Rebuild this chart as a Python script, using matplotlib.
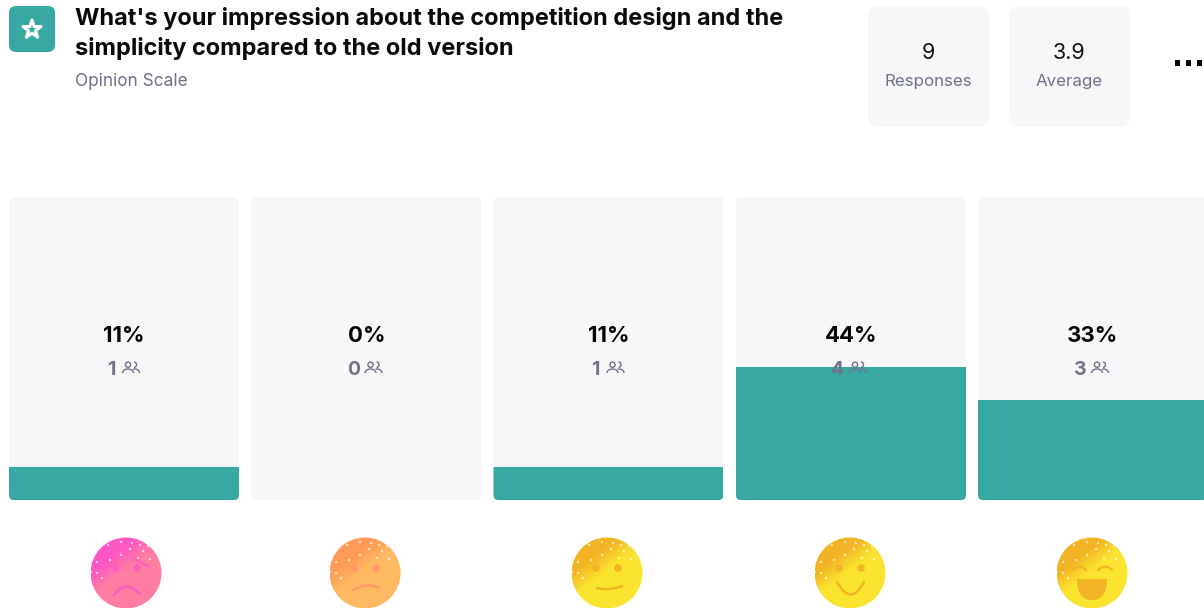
import numpy as np
import matplotlib
matplotlib.use("Agg")
import matplotlib.pyplot as plt
from matplotlib.colors import LinearSegmentedColormap
from matplotlib.patches import FancyBboxPatch, Circle, Arc, PathPatch
from matplotlib.path import Path

# survey results
question = ["What's your impression about the competition design and the",
            "simplicity compared to the old version"]
question_type = "Opinion Scale"
percents = [11, 0, 11, 44, 33]
counts = [1, 0, 1, 4, 3]
stat_names = ["Responses", "Average"]
stat_values = ["9", "3.9"]
moods = ["worried", "sad", "neutral", "smile", "laugh"]

TEAL = "#38a8a2"
PANEL = "#f7f7fa"
GREY = "#6e7287"
FONT = "Inter"

# (edge colour at top left, face colour, feature colour)
face_colors = {
    "worried": ("#ff58c4", "#ff7ea2", "#ff5cc0"),
    "sad": ("#ff9a58", "#ffb962", "#ff9a68"),
    "neutral": ("#f2b324", "#fbe42f", "#f2b324"),
    "smile": ("#f2b324", "#fbe42f", "#f2b324"),
    "laugh": ("#f2b324", "#fbe42f", "#f2b324"),
}

# freckles on the emoji, offset from centre in px
specks = [(-18, -28), (-5, -31), (6, -30), (-5, -18), (4, -24), (17, -22), (22, -27),
          (12, -15), (-29, -11), (-16, -13), (-35, -1), (-29, 0), (-24, 5), (14, -28), (24, -14)]


def rounded(ax, x, y, w, h, r, color, **kw):
    box = FancyBboxPatch((x + r, y + r), w - 2 * r, h - 2 * r,
                         boxstyle=f"round,pad={r},rounding_size={r}",
                         fc=color, ec="none", **kw)
    ax.add_patch(box)
    return box


def people_icon(ax, cx, cy, color):
    ax.add_patch(Circle((cx - 2.5, cy - 3.3), 2.6, fc="none", ec=color, lw=1.0, zorder=5))
    ax.add_patch(Arc((cx + 3.5, cy - 3.3), 5, 5.4, theta1=-90, theta2=90, ec=color, lw=1.0, zorder=5))
    ax.add_patch(Arc((cx - 2.5, cy + 5), 11, 8, theta1=180, theta2=360, ec=color, lw=1.0, zorder=5))
    ax.add_patch(Arc((cx + 4, cy + 5), 10, 8, theta1=250, theta2=360, ec=color, lw=1.0, zorder=5))


def curve(ax, pts, color, lw=1.8):
    # pts are start, control, end of one quadratic segment
    codes = [Path.MOVETO, Path.CURVE3, Path.CURVE3]
    ax.add_patch(PathPatch(Path(np.array(pts, dtype=float), codes), fc="none", ec=color,
                           lw=lw, capstyle="round", zorder=4))


def draw_emoji(ax, cx, cy, r, mood):
    edge, face, feat = face_colors[mood]
    cmap = LinearSegmentedColormap.from_list(mood, [face, edge], N=128)
    n = 120
    xx, yy = np.meshgrid(np.linspace(-1, 1, n), np.linspace(-1, 1, n))
    # diagonal shade towards the upper left
    grad = np.clip((-(xx + yy * 1.3) / 1.64 - 0.05) / 0.55, 0, 1)
    im = ax.imshow(grad, extent=(cx - r, cx + r, cy + r, cy - r), cmap=cmap, vmin=0, vmax=1,
                   interpolation="bilinear", aspect="auto", zorder=2)
    im.set_clip_path(Circle((cx, cy), r, transform=ax.transData))
    for dx, dy in specks:
        ax.add_patch(Circle((cx + dx, cy + dy), 1.2, fc="white", ec="none", alpha=0.65, zorder=3))

    def p(*pairs):
        return [(cx + a, cy + b) for a, b in pairs]

    if mood == "laugh":
        curve(ax, p((-20, -3), (-13, -10), (-6, -3)), feat, 1.6)
        curve(ax, p((6, -3), (13, -10), (20, -3)), feat, 1.6)
        verts = p((-15, 6), (15, 6), (15, 27), (0, 27), (-15, 27), (-15, 6), (-15, 6))
        codes = [Path.MOVETO, Path.LINETO, Path.CURVE3, Path.CURVE3, Path.CURVE3, Path.CURVE3, Path.CLOSEPOLY]
        ax.add_patch(PathPatch(Path(verts, codes), fc=feat, ec="none", zorder=4))
        return
    for dx in (-11, 11):
        ax.add_patch(Circle((cx + dx, cy - 5), 3.8, fc=feat, ec="none", zorder=4))
    if mood == "worried":
        curve(ax, p((-19, -6), (-12, -13), (-8, -15)), feat, 1.6)
        curve(ax, p((8, -15), (14, -10), (22, -7)), feat, 1.6)
        curve(ax, p((-12, 22), (0, 6), (14, 21)), feat, 2.0)
    elif mood == "sad":
        curve(ax, p((-12, 17), (1, 9), (14, 15)), feat)
    elif mood == "neutral":
        curve(ax, p((-10, 15), (2, 18), (15, 13)), feat)
    elif mood == "smile":
        curve(ax, p((-13, 9), (1, 34), (14, 9)), feat)


fig = plt.figure(figsize=(12.04, 6.09), dpi=100)
ax = fig.add_axes([0, 0, 1, 1])
ax.set_xlim(0, 1204)
ax.set_ylim(609, 0)
ax.axis("off")

# header
rounded(ax, 9, 6, 46, 46, 7, TEAL)
ax.scatter([32], [29.5], marker="*", s=190, fc="none", ec="white", lw=2.2, zorder=3)
ax.text(75, 18, question[0], fontsize=16.95, fontweight="bold", family=FONT, color="#0a0a0a", va="center")
ax.text(75, 48.5, question[1], fontsize=16.95, fontweight="bold", family=FONT, color="#0a0a0a", va="center")
ax.text(75, 81, question_type, fontsize=12.4, family=FONT, color=GREY, va="center")

for left, name, val in zip([868, 1009], stat_names, stat_values):
    rounded(ax, left, 6, 121, 121, 11, PANEL)
    ax.text(left + 60.5, 53, val, fontsize=15.5, family=FONT, color="#111111", ha="center", va="center")
    ax.text(left + 60.5, 81.5, name, fontsize=12.2, family=FONT, color=GREY, ha="center", va="center")

ax.scatter([1177.5, 1188.5, 1199.5], [63, 63, 63], marker="s", s=16, color="#050505", ec="none", zorder=3)

# columns: one percent is 3.03 px tall, base of the panels at y=500
top, base = 197, 500
lefts = [9, 251.5, 493.5, 736, 978]
width = 230
x_pos = np.arange(len(percents))
step = 242.25
emoji_x = [126, 365, 607, 850, 1092]

bars_ax = fig.add_axes([(9 + width / 2 - step / 2) / 1204, (609 - base) / 609,
                        step * 5 / 1204, (base - top) / 609])
bars_ax.set_xlim(-0.5, 4.5)
bars_ax.set_ylim(0, 100)
bars_ax.axis("off")
bars_ax.set_zorder(0)
ax.set_zorder(1)
ax.patch.set_alpha(0)

panels = bars_ax.bar(x_pos, [100] * 5, width=width / step, color=PANEL)
fills = bars_ax.bar(x_pos, percents, width=width / step, color=TEAL)
for i, bar in enumerate(fills):
    clip = FancyBboxPatch((lefts[i] + 5, top + 5), width - 10, base - top - 10,
                          boxstyle="round,pad=5,rounding_size=5", transform=ax.transData)
    bar.set_clip_path(clip)
    panels[i].set_clip_path(clip)

for i, (pct, cnt) in enumerate(zip(percents, counts)):
    cx = lefts[i] + width / 2
    ax.text(cx, 335.5, f"{pct}%", fontsize=16, fontweight="bold", family=FONT, color="#050505",
            ha="center", va="center", zorder=5)
    ax.text(cx - 13, 370, str(cnt), fontsize=14, fontweight="bold", family=FONT, color=GREY,
            ha="center", va="center", zorder=5)
    people_icon(ax, cx + 6.5, 368, GREY)
    draw_emoji(ax, emoji_x[i], 573, 35.5, moods[i])

ax.set_xlim(0, 1204)
ax.set_ylim(609, 0)
fig.savefig("out.png", dpi=100, facecolor="white")
